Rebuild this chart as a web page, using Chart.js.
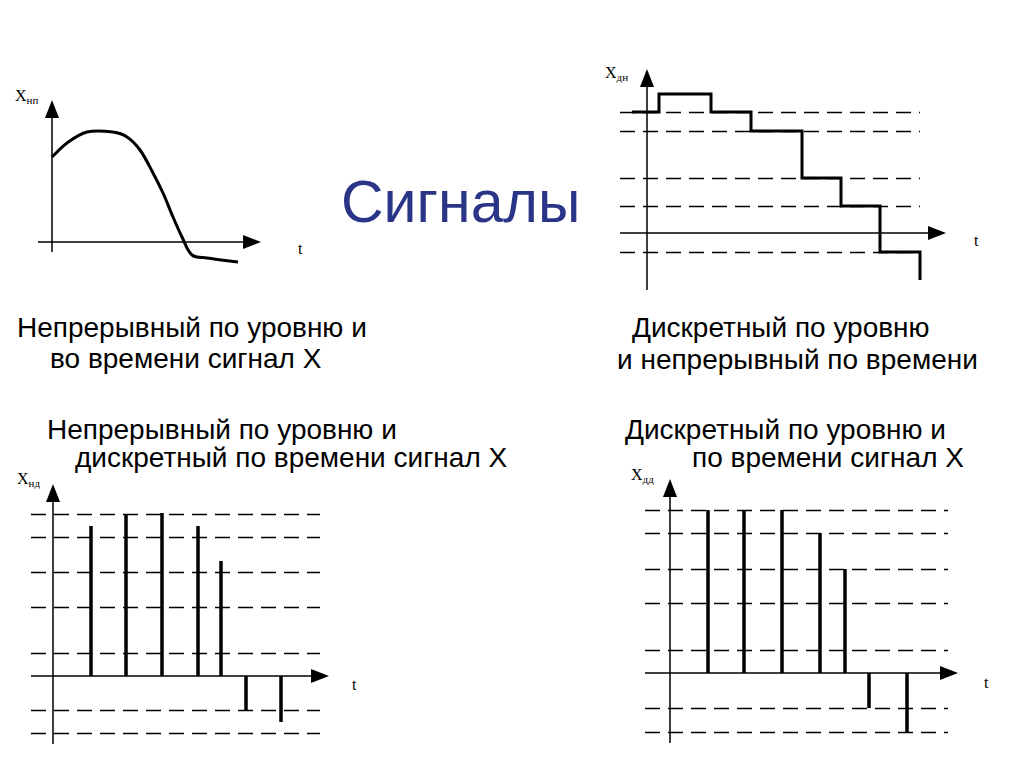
<!DOCTYPE html>
<html><head><meta charset="utf-8">
<script src="https://cdn.jsdelivr.net/npm/chart.js@4"></script>
<style>
body{margin:0;width:1024px;height:767px;background:#fff;position:relative;overflow:hidden;font-family:"Liberation Sans",Arial,sans-serif}
canvas{position:absolute}
.t{position:absolute;font-size:28px;line-height:28px;white-space:nowrap;color:#000}
.s{position:absolute;font-family:"Liberation Serif",serif;font-size:16px;color:#000}
.s sub{font-size:11px;vertical-align:-3px}
</style></head><body>
<div class="t" style="left:341px;top:172px;font-size:59px;line-height:60px;color:#2b3587">Сигналы</div>
<div class="t" style="left:17px;top:314px">Непрерывный по уровню и</div>
<div class="t" style="left:50px;top:345px">во времени сигнал X</div>
<div class="t" style="left:632px;top:314px">Дискретный по уровню</div>
<div class="t" style="left:617px;top:346px">и непрерывный по времени</div>
<div class="t" style="left:47px;top:416px">Непрерывный по уровню и</div>
<div class="t" style="left:75px;top:444px">дискретный по времени сигнал X</div>
<div class="t" style="left:625px;top:416px">Дискретный по уровню и</div>
<div class="t" style="left:692px;top:444px">по времени сигнал X</div>
<div class="s" style="left:15px;top:87px">X<sub>нп</sub></div>
<div class="s" style="left:298px;top:240px">t</div>
<div class="s" style="left:605px;top:64px">X<sub>дн</sub></div>
<div class="s" style="left:974px;top:232px">t</div>
<div class="s" style="left:17px;top:470px">X<sub>нд</sub></div>
<div class="s" style="left:352px;top:676px">t</div>
<div class="s" style="left:631px;top:466px">X<sub>дд</sub></div>
<div class="s" style="left:984px;top:674px">t</div>
<script>
// Panel 1: continuous signal (time, value)
const contT = [0,15,35,61,75,88,101,111,121,130,140,155,186];
const contV = [85,99,110,110,105,92,69,49,25,5,-13,-16,-20];
// Panel 2: level-quantized, continuous time (step changes)
const stepT = [-15,12,64,104,155,194,233,273,273];
const stepV = [121,139,121,102,55,27,-19,-19,-47];
const levels2 = [121,102,55,27,-19];
// Panel 3: continuous level, discrete time
const sampT3 = [38,73,109,145,168,193,228];
const sampV3 = [150,162,163,150,115,-34,-46];
const levels3 = [162,139,104,69,23,-34,-57];
// Panel 4: discrete level and time
const sampT4 = [38,74,112,150,175,199,237];
const sampV4 = [163,163,163,140,104,-35,-59];
const levels4 = [163,140,104,70,23,-35,-59];

const axesPlugin = {
  id:'axesArrows',
  beforeDatasetsDraw(chart){
    const o = chart.options.plugins.axesArrows; if(!o) return;
    const x = chart.scales.x, y = chart.scales.y, c = chart.ctx;
    c.save();
    c.strokeStyle='#000'; c.lineWidth=1.3; c.setLineDash([15,8]);
    (o.levels||[]).forEach(l=>{
      const py=Math.round(y.getPixelForValue(l))+0.5;
      c.beginPath(); c.moveTo(x.getPixelForValue(o.dash[0]),py); c.lineTo(x.getPixelForValue(o.dash[1]),py); c.stroke();
    });
    c.setLineDash([]);
    c.lineWidth=1.5;
    const x0=x.getPixelForValue(0), y0=y.getPixelForValue(0);
    c.beginPath(); c.moveTo(x.getPixelForValue(o.xr[0]),y0); c.lineTo(x.getPixelForValue(o.xr[1]),y0); c.stroke();
    c.beginPath(); c.moveTo(x0,y.getPixelForValue(o.yr[0])); c.lineTo(x0,y.getPixelForValue(o.yr[1])); c.stroke();
    c.fillStyle='#000';
    const ax=x.getPixelForValue(o.xr[1]);
    c.beginPath(); c.moveTo(ax+14,y0); c.lineTo(ax-4,y0-7); c.lineTo(ax-4,y0+7); c.closePath(); c.fill();
    const ay=y.getPixelForValue(o.yr[1]);
    c.beginPath(); c.moveTo(x0,ay-14); c.lineTo(x0-7,ay+4); c.lineTo(x0+7,ay+4); c.closePath(); c.fill();
    c.restore();
  }
};
Chart.register(axesPlugin);

function panel(box, origin, datasets, ax){
  const cv=document.createElement('canvas');
  cv.style.left=box[0]+'px'; cv.style.top=box[1]+'px';
  cv.style.width=box[2]+'px'; cv.style.height=box[3]+'px';
  cv.width=box[2]; cv.height=box[3];
  document.body.appendChild(cv);
  new Chart(cv,{type:'line',data:{datasets},options:{
    responsive:false,animation:false,events:[],
    layout:{padding:0},
    plugins:{legend:{display:false},tooltip:{enabled:false},axesArrows:ax},
    scales:{
      x:{type:'linear',display:false,min:box[0]-origin[0],max:box[0]+box[2]-origin[0]},
      y:{type:'linear',display:false,max:origin[1]-box[1],min:origin[1]-box[1]-box[3]}
    },
    elements:{point:{radius:0}}
  }});
}
function stems(t,v,w){
  return t.map((tt,i)=>({data:[{x:tt,y:0},{x:tt,y:v[i]}],borderColor:'#000',borderWidth:w,borderCapStyle:'butt'}));
}

panel([0,70,320,210],[52,242],
  [{data:contT.map((t,i)=>({x:t,y:contV[i]})),borderColor:'#000',borderWidth:3,tension:0.35}],
  {xr:[-14,195],yr:[-10,128],levels:[]});
panel([590,55,400,240],[647,233],
  [{data:stepT.map((t,i)=>({x:t,y:stepV[i]})),borderColor:'#000',borderWidth:3,stepped:'before'}],
  {xr:[-27,285],yr:[-57,150],levels:levels2,dash:[-27,273]});
panel([0,465,380,290],[53,676],
  stems(sampT3,sampV3,3.5),
  {xr:[-22,262],yr:[-68,178],levels:levels3,dash:[-22,267]});
panel([600,455,420,300],[670,673],
  stems(sampT4,sampV4,3.5),
  {xr:[-25,274],yr:[-70,180],levels:levels4,dash:[-25,278]});
</script>
</body></html>
